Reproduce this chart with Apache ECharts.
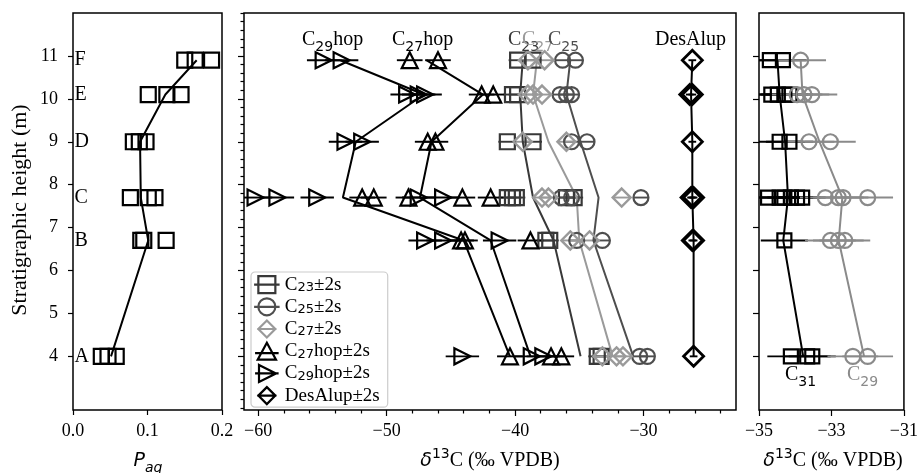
<!DOCTYPE html>
<html><head><meta charset="utf-8">
<script src="https://cdn.jsdelivr.net/npm/echarts/dist/echarts.min.js"></script>
<style>html,body{margin:0;padding:0;background:#fff}#c{width:921px;height:473px}</style>
</head><body><div id="c"></div>
<script>
// ---------- data ----------
const sampleNames = ['F','E','D','C','B','A'];
const sampleHeights = [10.9, 10.1, 9.0, 7.7, 6.7, 4.0];
const yTickValues = [4,5,6,7,8,9,10,11];
const xTicksPaq = [0, 0.1, 0.2];
const xTicksMain = [-60,-50,-40,-30];
const xTicksRight = [-35,-33,-31];

const paqValues = [[0.150,0.164,0.186],[0.101,0.126,0.145],[0.081,0.089,0.098],[0.077,0.101,0.110],[0.091,0.095,0.125],[0.038,0.047,0.058]];
const paqMeans  = [0.166,0.124,0.090,0.091,0.101,0.051];

const c23Values = [[-39.8,-38.6],[-40.2,-39.8],[-40.6,-38.6],[-40.6,-40.2,-39.9,-36.0,-35.4],[-37.6,-37.3],[-33.6,-33.3]];
const c23Means  = [-39.4,-39.6,-39.4,-38.6,-37.0,-34.9];
const c25Values = [[-36.3,-35.3],[-36.5,-36.0,-35.6],[-35.6,-34.4],[-36.4,-35.6,-30.2],[-35.2,-33.2],[-30.3,-29.7]];
const c25Means  = [-35.7,-36.0,-34.9,-33.5,-33.9,-30.8];
const c27Values = [[-39.0,-37.7],[-39.0,-38.6,-37.9],[-39.4,-36.0],[-37.9,-37.4,-31.7],[-35.7,-34.2],[-33.2,-32.1,-31.6]];
const c27Means  = [-38.3,-38.6,-37.4,-35.2,-35.0,-32.4];
const c27hopValues = [[-48.2,-46.0],[-42.6,-41.7],[-46.8,-46.2],[-51.9,-51.0,-48.3,-44.1,-41.9],[-44.2,-43.9,-38.8],[-40.4,-37.2,-36.4]];
const c27hopMeans  = [-46.9,-42.5,-46.5,-47.4,-41.9,-38.8];
const c29hopValues = [[-54.9,-53.5],[-48.4,-47.5,-47.0],[-53.2,-51.9],[-60.2,-58.5,-55.4,-47.5,-45.6],[-47.0,-45.6,-41.2],[-44.1,-38.7,-37.8]];
const c29hopMeans  = [-53.6,-47.1,-52.4,-53.4,-44.0,-40.4];
const desAlupValues = [[-26.2],[-26.4,-26.2],[-26.2],[-26.3,-26.2,-26.1],[-26.2,-26.1],[-26.1]];
const desAlupMeans  = [-26.2,-26.3,-26.2,-26.2,-26.1,-26.1];

const c31Values = [[-34.70,-34.34],[-34.66,-34.48,-34.30,-34.16],[-34.43,-34.16],[-34.75,-34.43,-34.30,-34.12,-33.95,-33.81],[-34.30],[-34.12,-33.67,-33.53]];
const c31Means  = [-34.49,-34.43,-34.28,-34.20,-34.33,-33.78];
const c29Values = [[-33.85],[-33.95,-33.76,-33.54],[-33.62,-33.03],[-33.17,-32.81,-32.68,-32.00],[-33.03,-32.81,-32.63],[-32.41,-32.00]];
const c29Means  = [-33.85,-33.80,-33.33,-32.70,-32.80,-32.10];

// 2s half-widths (per compound)
const c23Err = 0.7, c25Err = 0.6, c27Err = 0.7, c27hopErr = 1.0, c29hopErr = 1.3, desAlupErr = 0.3, c31Err = 0.65, c29Err = 0.7;

// ---------- styling ----------
const serifF = "'Liberation Serif','Times New Roman',serif";
const sansF = "'DejaVu Sans',sans-serif";
const Y_MIN = 2.75, Y_MAX = 12;
const X2_MIN = -61.1, X2_MAX = -22.8;
const col23 = '#383838', col25 = '#4e4e4e', col27 = '#9a9a9a', colC29 = '#8a8a8a';

const minorY = [];
for (let k = 14; k <= 60; k++) { const v = Math.round(k * 2) / 10; if (!(Number.isInteger(v) && v >= 4 && v <= 11)) minorY.push(v); }
const minorX = [];
for (let v = -60; v <= -24; v += 2) { if (v % 10 !== 0) minorX.push(v); }

const minus = v => String(v).replace('-', '\u2212');
const tickStyle = {color:'#000', width:1.2};
const labelStyle = {color:'#000', fontFamily: serifF, fontSize: 18};

function flat(vals, err) {
  const out = [];
  vals.forEach((row, i) => row.forEach(v => out.push([v, sampleHeights[i], err])));
  return out;
}

const series = [];
function addGroup(g, xi, yi, xmin, xmax) {
  if (g.err != null) {
    series.push({
      type:'custom', name:g.name + ' err', xAxisIndex:xi, yAxisIndex:yi, silent:true, z:2,
      data: flat(g.vals, g.err), encode:{x:0, y:1},
      renderItem: (params, api) => {
        const x = api.value(0), y = api.value(1), e = api.value(2);
        const p1 = api.coord([Math.max(x - e, xmin), y]);
        const p2 = api.coord([Math.min(x + e, xmax), y]);
        return {type:'line', shape:{x1:p1[0], y1:p1[1], x2:p2[0], y2:p2[1]}, style:{stroke:g.color, lineWidth:1.9}};
      }
    });
  }
  series.push({
    type:'line', name:g.name + ' mean', xAxisIndex:xi, yAxisIndex:yi, silent:true, z:3,
    data: g.means.map((m, i) => [m, sampleHeights[i]]), symbol:'none',
    lineStyle:{color:g.color, width:2}
  });
  series.push({
    type:'scatter', name:g.name, xAxisIndex:xi, yAxisIndex:yi, z:4,
    data: flat(g.vals, 0).map(d => [d[0], d[1]]),
    symbol:g.symbol, symbolSize:g.size, symbolRotate:g.rot || 0,
    itemStyle:{color:'rgba(0,0,0,0)', borderColor:g.color, borderWidth:g.bw || 2.2, opacity:1}
  });
}

addGroup({name:'Paq', vals:paqValues, means:paqMeans, err:null, color:'#000', symbol:'rect', size:15}, 0, 0, 0, 0.2);
addGroup({name:'C23±2s', vals:c23Values, means:c23Means, err:c23Err, color:col23, symbol:'rect', size:15}, 1, 1, X2_MIN, X2_MAX);
addGroup({name:'C25±2s', vals:c25Values, means:c25Means, err:c25Err, color:col25, symbol:'circle', size:15}, 1, 1, X2_MIN, X2_MAX);
addGroup({name:'C27±2s', vals:c27Values, means:c27Means, err:c27Err, color:col27, symbol:'diamond', size:18, bw:2.4}, 1, 1, X2_MIN, X2_MAX);
addGroup({name:'C27hop±2s', vals:c27hopValues, means:c27hopMeans, err:c27hopErr, color:'#000', symbol:'triangle', size:16}, 1, 1, X2_MIN, X2_MAX);
addGroup({name:'C29hop±2s', vals:c29hopValues, means:c29hopMeans, err:c29hopErr, color:'#000', symbol:'triangle', size:16, rot:-90}, 1, 1, X2_MIN, X2_MAX);
addGroup({name:'DesAlup±2s', vals:desAlupValues, means:desAlupMeans, err:desAlupErr, color:'#000', symbol:'diamond', size:20, bw:2.8}, 1, 1, X2_MIN, X2_MAX);
addGroup({name:'C31', vals:c31Values, means:c31Means, err:c31Err, color:'#000', symbol:'rect', size:14}, 3, 3, -35, -31);
addGroup({name:'C29', vals:c29Values, means:c29Means, err:c29Err, color:colC29, symbol:'circle', size:15}, 3, 3, -35, -31);

// sample letters
series.push({
  type:'scatter', name:'letters', xAxisIndex:0, yAxisIndex:0, silent:true, z:5,
  data: sampleHeights.map((h, i) => ({value:[0, h], name:sampleNames[i]})),
  symbolSize:1, itemStyle:{color:'rgba(0,0,0,0)', opacity:1},
  label:{show:true, position:'right', distance:1, formatter:'{b}', color:'#000', opacity:1, fontFamily:serifF, fontSize:20}
});

function richSet(fill, size) {
  const sub = Math.round(size * 0.7);
  return {
    n:{fill, color:fill, fontFamily:serifF, fontSize:size, lineHeight:size + 8, verticalAlign:'middle'},
    i:{fill, color:fill, fontFamily:sansF, fontStyle:'italic', fontSize:size - 1, lineHeight:size + 8, verticalAlign:'middle'},
    s:{fill, color:fill, fontFamily:sansF, fontSize:sub, lineHeight:sub + 2, verticalAlign:'bottom'},
    is:{fill, color:fill, fontFamily:sansF, fontStyle:'italic', fontSize:sub, lineHeight:sub + 2, verticalAlign:'bottom'},
    p:{fill, color:fill, fontFamily:sansF, fontSize:sub, lineHeight:sub + 2, verticalAlign:'top'}
  };
}
function txt(x, y, text, fill, size, align, rot) {
  return {type:'text', x, y, rotation:rot || 0, z:10, silent:true,
    style:{text, rich:richSet(fill, size), fill, align:align || 'left', verticalAlign:'middle',
      font: size + 'px ' + serifF}};
}

const legendIcons = {
  'C23±2s':'path://M3,2 H15 V14 H3 Z M0,8 H18',
  'C25±2s':'path://M15,8 A6,6 0 1 1 3,8 A6,6 0 1 1 15,8 Z M0,8 H18',
  'C27±2s':'path://M9,0 L17,8 L9,16 L1,8 Z M0,8 H18',
  'C27hop±2s':'path://M9,1 L16,14 L2,14 Z M0,9 H18',
  'C29hop±2s':'path://M3,1.5 L16,8 L3,14.5 Z M0,8 H18',
  'DesAlup±2s':'path://M9,0 L17,8 L9,16 L1,8 Z M0,8 H18'
};
const legendColors = {'C23±2s':col23,'C25±2s':col25,'C27±2s':col27,'C27hop±2s':'#000','C29hop±2s':'#000','DesAlup±2s':'#000'};

const option = {
  animation:false,
  backgroundColor:'#fff',
  grid:[
    {left:73, top:13, width:149, height:397, show:true, borderColor:'#000', borderWidth:1.5, backgroundColor:'transparent'},
    {left:244, top:13, width:492, height:397, show:true, borderColor:'#000', borderWidth:1.5, backgroundColor:'transparent'},
    {left:759, top:13, width:148, height:397, show:true, borderColor:'#000', borderWidth:1.5, backgroundColor:'transparent'}
  ],
  xAxis:[
    {type:'value', gridIndex:0, min:0, max:0.2, position:'bottom', splitLine:{show:false}, axisLine:{show:false},
      axisTick:{show:true, length:5, lineStyle:tickStyle, customValues:xTicksPaq},
      axisLabel:Object.assign({customValues:xTicksPaq, margin:12, formatter:v => Number(v).toFixed(1)}, labelStyle)},
    {type:'value', gridIndex:1, min:X2_MIN, max:X2_MAX, position:'bottom', splitLine:{show:false}, axisLine:{show:false},
      axisTick:{show:true, length:6, lineStyle:tickStyle, customValues:xTicksMain},
      axisLabel:Object.assign({customValues:xTicksMain, margin:12, formatter:minus}, labelStyle)},
    {type:'value', gridIndex:1, min:X2_MIN, max:X2_MAX, position:'bottom', splitLine:{show:false}, axisLine:{show:false},
      axisTick:{show:true, length:3.5, lineStyle:tickStyle, customValues:minorX},
      axisLabel:{show:false}},
    {type:'value', gridIndex:2, min:-35, max:-31, position:'bottom', splitLine:{show:false}, axisLine:{show:false},
      axisTick:{show:true, length:6, lineStyle:tickStyle, customValues:xTicksRight},
      axisLabel:Object.assign({customValues:xTicksRight, margin:12, formatter:minus}, labelStyle)}
  ],
  yAxis:[
    {type:'value', gridIndex:0, min:Y_MIN, max:Y_MAX, position:'left', splitLine:{show:false}, axisLine:{show:false},
      axisTick:{show:true, length:5, lineStyle:tickStyle, customValues:yTickValues},
      axisLabel:Object.assign({customValues:yTickValues, margin:15}, labelStyle)},
    {type:'value', gridIndex:1, min:Y_MIN, max:Y_MAX, position:'left', splitLine:{show:false}, axisLine:{show:false},
      axisTick:{show:true, length:6, lineStyle:tickStyle, customValues:yTickValues},
      axisLabel:{show:false}},
    {type:'value', gridIndex:1, min:Y_MIN, max:Y_MAX, position:'left', splitLine:{show:false}, axisLine:{show:false},
      axisTick:{show:true, length:3.5, lineStyle:tickStyle, customValues:minorY},
      axisLabel:{show:false}},
    {type:'value', gridIndex:2, min:Y_MIN, max:Y_MAX, position:'left', splitLine:{show:false}, axisLine:{show:false},
      axisTick:{show:true, length:6, lineStyle:tickStyle, customValues:yTickValues},
      axisLabel:{show:false}}
  ],
  legend:{
    orient:'vertical', left:251, top:272, selectedMode:false,
    itemWidth:26, itemHeight:17, itemGap:3,
    padding:[3,8,2,2], backgroundColor:'rgba(255,255,255,0.85)', borderColor:'#cccccc', borderWidth:1.2, borderRadius:4,
    data:Object.keys(legendIcons).map(n => ({name:n, icon:legendIcons[n],
      itemStyle:{color:'rgba(0,0,0,0)', borderColor:legendColors[n], borderWidth:2.2, opacity:1}})),
    formatter: name => {
      const m = name.match(/^C(\d+)(.*)$/);
      return m ? '{n|C}{s|' + m[1] + '}{n|' + m[2] + '}' : '{n|' + name + '}';
    },
    textStyle:{color:'#000', fontFamily:serifF, fontSize:19, rich:{
      n:{color:'#000', fontFamily:serifF, fontSize:19, lineHeight:19, verticalAlign:'middle'},
      s:{color:'#000', fontFamily:sansF, fontSize:13, lineHeight:12, verticalAlign:'bottom'}
    }}
  },
  graphic:[
    txt(20, 210, 'Stratigraphic height (m)', '#000', 22, 'center', Math.PI / 2),
    txt(148, 461, '{i|P}{is|aq}', '#000', 20, 'center'),
    txt(490, 461, '{i|\u03b4}{p|13}{n|C (\u2030 VPDB)}', '#000', 20, 'center'),
    txt(833, 461, '{i|\u03b4}{p|13}{n|C (\u2030 VPDB)}', '#000', 20, 'center'),
    txt(302, 40, '{n|C}{s|29}{n|hop}', '#000', 20),
    txt(392, 40, '{n|C}{s|27}{n|hop}', '#000', 20),
    txt(508, 40, '{n|C}{s|23}', col23, 20),
    txt(522, 40, '{n|C}{s|27}', col27, 20),
    txt(548, 40, '{n|C}{s|25}', col25, 20),
    txt(655, 40, '{n|DesAlup}', '#000', 20),
    txt(785, 375, '{n|C}{s|31}', '#000', 20),
    txt(847, 375, '{n|C}{s|29}', colC29, 20)
  ],
  series
};

const chart = echarts.init(document.getElementById('c'));
chart.setOption(option);
</script>
</body></html>
